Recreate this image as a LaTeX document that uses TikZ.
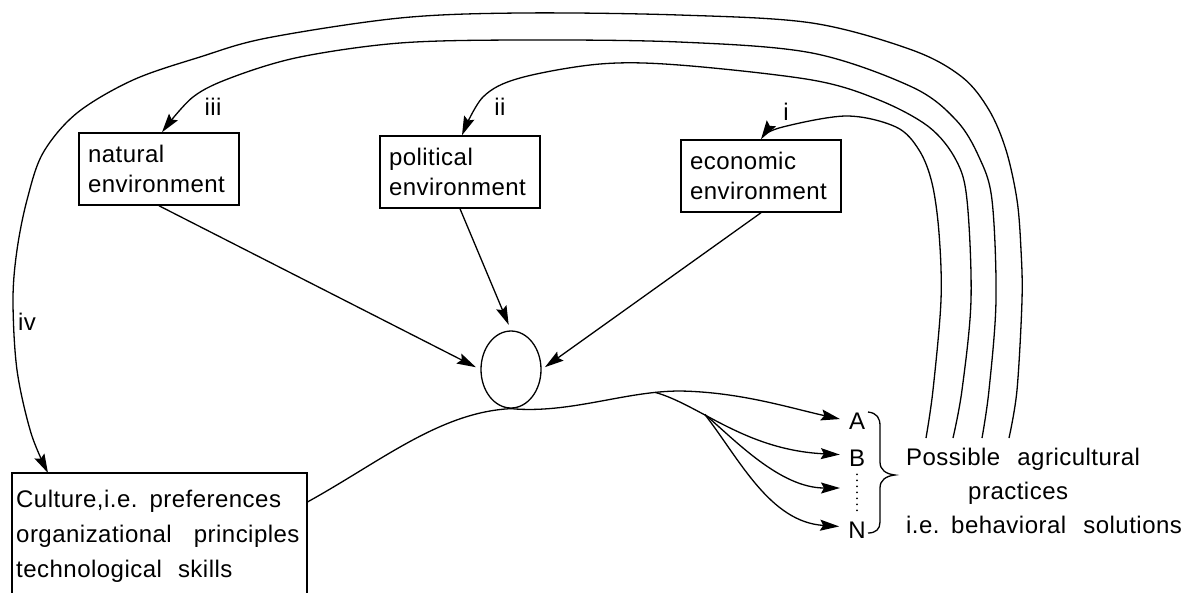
\documentclass[tikz,border=0pt]{standalone}
\usepackage{fontspec}
\setmainfont{Liberation Sans}[LetterSpace=2]
\usetikzlibrary{arrows.meta,shapes.geometric,calc}
\tikzset{
  envbox/.style={draw, line width=1.5pt, align=left, inner xsep=9pt, inner ysep=0pt,
    text width=142pt, minimum height=72pt, font=\fontsize{24}{30}\selectfont},
  conn/.style={line width=1.3pt},
  arr/.style={conn, -{Stealth[length=19pt,width=11pt,inset=3pt]}},
  roman/.style={inner sep=0pt, font=\fontsize{24}{28}\selectfont},
  letter/.style={inner sep=0pt, font=\fontsize{24}{28}\selectfont},
  boxline/.style={line width=1.5pt},
}
\begin{document}
\begin{tikzpicture}[x=1pt,y=-1pt]
\useasboundingbox (0,0) rectangle (1199,592);
\begin{scope}
\clip (0,0) rectangle (1199,592);

% environment boxes
\node[envbox] (natural) at (159,169) {natural\\environment};
\node[envbox] (political) at (460,172) {political\\environment};
\node[envbox] (economic) at (761,176) {economic\\environment};

% central ellipse
\node[draw, ellipse, line width=1.3pt, minimum width=60pt, minimum height=77pt, inner sep=0pt] (ell) at (511,369.5) {};

% culture box
\node[anchor=north west, inner xsep=4pt, inner ysep=0pt, text width=287pt, align=left,
      font=\fontsize{24}{35}\selectfont] (culture) at (12,490)
  {Culture,i.e. preferences\\organizational\hspace{14pt} principles\\technological\hspace{8pt} skills};
\draw[boxline] (12,600) |- (307,473) -- (307,600);
\coordinate (cultop) at (48,473);

% outcomes
\node[letter] (A) at (857,421) {A};
\node[letter] (B) at (857,458) {B};
\node[letter] (N) at (857,530) {N};
\coordinate (Cpt) at (840,488);
\draw[line width=2pt, line cap=round, dash pattern=on 0pt off 6pt] ($(B.south)+(0,8)$) -- ($(N.north)+(0,-8)$);
\draw[line width=1.3pt] (868,412) .. controls (877,413) and (880,418) .. (880,426) -- (880,462)
  .. controls (880,470) and (886,474) .. (895,475) .. controls (886,476) and (880,480) .. (880,488)
  -- (880,522) .. controls (880,529) and (876,533) .. (868,533);

\node[anchor=north west, inner sep=0pt, align=left, font=\fontsize{24}{34}\selectfont] (practices) at (906,448)
  {Possible\hspace{10pt} agricultural\\\hspace*{62pt}practices\\i.e.\hspace{2pt} behavioral\hspace{10pt} solutions};

% labels
\node[roman] (liii) at (213,107) {iii};
\node[roman] (lii) at (500,107) {ii};
\node[roman] (li) at (786,112) {i};
\node[roman] (liv) at (27,322) {iv};

% arrows into the ellipse
\draw[arr, shorten >=5pt] (natural.south) -- (ell.west);
\draw[arr, shorten >=6pt] (political.south) -- (ell.north);
\draw[arr, shorten >=4pt] (economic.south) -- (ell.east);

% flow from culture through ellipse to outcomes
\draw[conn] ($(culture.north east)+(0,12)$) .. controls (380,462) and (440,412) .. (ell.south);
\draw[arr, shorten >=9pt] (ell.south) .. controls (570,414) and (625,391) .. coordinate[pos=0.85] (split1) (680,391)
  .. controls (740,392) and (790,408) .. (A.west);
\draw[arr, shorten >=9pt] (split1) .. controls (700,405) and (745,450) .. coordinate[pos=0.35] (split2) ([yshift=3pt]B.west);
\draw[arr] (split2) .. controls (735,440) and (780,488) .. (Cpt);
\draw[arr, shorten >=9pt] (split2) .. controls (740,460) and (770,522) .. ([yshift=3pt]N.west);

% feedback loops
\coordinate (fbi) at (926,438);
\coordinate (fbii) at (953,438);
\coordinate (fbiii) at (982,438);
\coordinate (fbiv) at (1009,438);
\draw[arr] plot[smooth, tension=0.55] coordinates {(fbi) (933,390) (941,300) (939,233) (932,183) (919,150) (896,127) (846,116) (779,128) (economic.north)};
\draw[arr] plot[smooth, tension=0.55] coordinates {(fbii) (962,390) (971,300) (967,200) (956,160) (929,127) (879,100) (812,80) (679,65) (600,64) (520,78) (483,97) ([xshift=2pt]political.north)};
\draw[arr] plot[smooth, tension=0.55] coordinates {(fbiii) (989,390) (996,300) (992,200) (979,157) (956,120) (912,87) (812,53) (679,42) (520,40) (400,43) (300,57) (233,77) (193,97) ([xshift=3pt]natural.north)};
\draw[arr] plot[smooth, tension=0.55] coordinates {(fbiv) (1017,390) (1022,300) (1021,250) (1017,200) (1006,150) (989,110) (962,77) (912,50) (812,23) (679,15) (520,13) (400,18) (267,38) (200,57) (133,80) (77,113) (43,153) (27,200) (17,250) (13,300) (17,370) (31,433) (cultop)};
\end{scope}
\end{tikzpicture}
\end{document}
